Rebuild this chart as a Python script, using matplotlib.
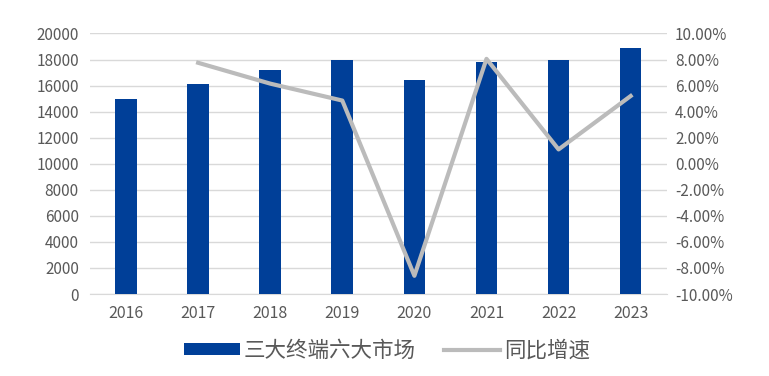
import numpy as np
from matplotlib import pyplot as plt
from matplotlib.ticker import FuncFormatter

plt.rcParams['font.family'] = ['Noto Sans CJK SC', 'DejaVu Sans']

years = ['2016', '2017', '2018', '2019', '2020', '2021', '2022', '2023']
market = [14950, 16100, 17200, 17980, 16450, 17780, 17980, 18900]
growth_years = ['2017', '2018', '2019', '2020', '2021', '2022', '2023']
growth = [7.75, 6.15, 4.85, -8.6, 8.05, 1.1, 5.2]

BAR_COLOR = '#003F98'
LINE_COLOR = '#BBBBBB'
TEXT_COLOR = '#595959'

fig = plt.figure(figsize=(7.69, 3.76), dpi=100)
ax = fig.add_axes([0.117, 0.218, 0.75, 0.693])
ax2 = ax.twinx()

x = np.arange(len(years))
ax.bar(x, market, width=0.3, color=BAR_COLOR, label='三大终端六大市场', zorder=3)
gx = [years.index(y) for y in growth_years]
ax2.plot(gx, growth, color=LINE_COLOR, lw=3, label='同比增速', zorder=4)

ax.set_xlim(-0.5, len(years) - 0.5)
ax.set_ylim(0, 20000)
ax.set_yticks(np.arange(0, 20001, 2000))
ax2.set_ylim(-10, 10)
ax2.set_yticks(np.arange(-10, 10.1, 2))
ax2.yaxis.set_major_formatter(FuncFormatter(lambda v, p: f'{v:.2f}%'))

ax.set_xticks(x)
ax.set_xticklabels(years)
ax.grid(axis='y', color='#D9D9D9', lw=1, zorder=0)

for a in (ax, ax2):
    for s in a.spines.values():
        s.set_visible(False)
    a.tick_params(length=0, colors=TEXT_COLOR, labelsize=11)
ax.spines['bottom'].set_visible(True)
ax.spines['bottom'].set_color('#D9D9D9')
ax.tick_params(axis='x', pad=8, labelsize=11.5)
ax.tick_params(axis='y', pad=8)
ax2.tick_params(axis='y', pad=6)

# keep the line above the bars
ax.set_zorder(1)
ax2.set_zorder(2)
ax.patch.set_visible(False)

h1, l1 = ax.get_legend_handles_labels()
h2, l2 = ax2.get_legend_handles_labels()
fig.legend(h1 + h2, l1 + l2, loc='center', bbox_to_anchor=(0.503, 0.068), ncol=2,
           frameon=False, fontsize=15.5, labelcolor=TEXT_COLOR, handlelength=2.6,
           handleheight=0.5, handletextpad=0.2, columnspacing=1.3)

plt.savefig('out.png', dpi=100)
